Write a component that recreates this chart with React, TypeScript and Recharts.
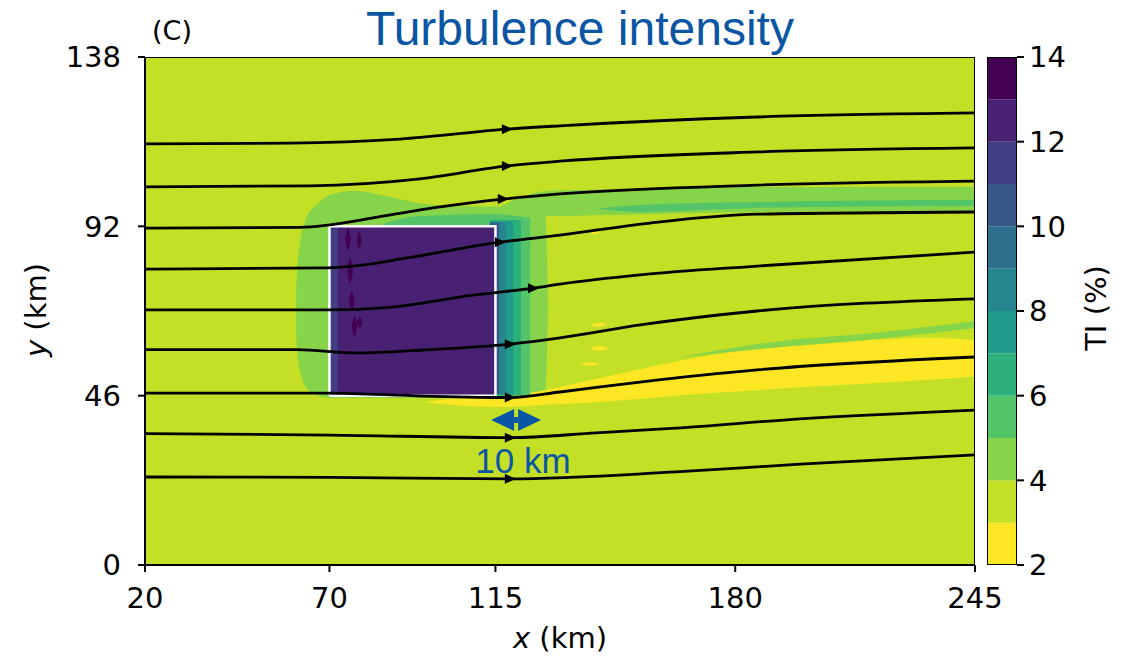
import React from 'react';
import { ComposedChart, Area, Line, Scatter, XAxis, YAxis } from 'recharts';

type Band = [number, number, number][]; // [x km, lower y km, upper y km]
type Pts = [number, number][];

const xTicks = [20, 70, 115, 180, 245];
const yTicks = [0, 46, 92, 138];
const tiTicks = [2, 4, 6, 8, 10, 12, 14];
const tiLevels = [2, 3, 4, 5, 6, 7, 8, 9, 10, 11, 12, 13, 14];
// viridis reversed, one colour per TI band
const tiColors = ['#fde725', '#c3e026', '#86d449', '#53c468', '#2eb07d', '#219b89',
    '#25868d', '#2e6f8e', '#38588c', '#423e84', '#482172', '#440154'];

// contour regions of TI
const background: Band = [[20, 0, 138], [245, 0, 138]];
const upstreamGreen: Band = [[61.0, 62.0, 76.0], [61.6, 55.0, 84.0], [62.2, 52.0, 89.0], [63.0, 49.5, 92.0],
    [63.8, 48.0, 94.5], [65.0, 47.0, 96.5], [66.5, 46.2, 97.8], [70.0, 45.4, 100.5], [77.0, 45.4, 101.7],
    [84.0, 45.4, 100.5], [94.5, 45.4, 98.3], [105.4, 45.4, 97.5], [116.2, 45.2, 97.3], [128.4, 45.6, 97.5],
    [129.3, 70, 70]];
const upperWake: Band = [[116.2, 94.8, 97.3], [128.4, 94.8, 101.5], [145.2, 95.1, 102.1], [185.9, 95.9, 102.7], [245, 96.2, 102.7]];
const upperStripe: Band = [[142.5, 96.8, 96.8], [154.2, 95.9, 97.8], [185.9, 97.0, 98.6], [245, 97.5, 99.2]];
const aboveBox: Band = [[83.7, 92.0, 92.3], [94.5, 92.0, 94.8], [114.3, 92.0, 95.3], [124.4, 93.0, 94.3]];
const lowWake: Band = [[95.9, 44.3, 44.3], [102.7, 43.5, 45.1], [116.2, 42.9, 45.6], [128.4, 43.5, 47.5],
    [143.3, 44.3, 50.8], [156.9, 45.4, 53.8], [170.5, 46.5, 56.5], [185.9, 47.5, 58.7], [203.0, 48.6, 60.0],
    [217.4, 49.4, 61.1], [232.8, 50.3, 61.7], [245, 51.3, 61.1]];
const lowWakeEdge: Band = [[163.1, 56.0, 56.0], [175.9, 57.6, 58.4], [190.2, 59.0, 60.6], [217.4, 61.3, 63.0], [245, 64.4, 66.3]];
const blob1: Band = [[140.6, 58.8, 58.8], [142.8, 58.2, 59.5], [146.1, 58.8, 58.8]];
const blob2: Band = [[137.9, 54.6, 54.6], [140.6, 54.1, 55.1], [143.3, 54.6, 54.6]];
const blob3: Band = [[140.6, 65.3, 65.3], [143.3, 64.7, 65.8], [145.2, 65.3, 65.3]];
const blob4: Band = [[140.6, 90.2, 90.2], [142.0, 89.9, 90.6], [143.3, 90.2, 90.2]];
const grad1: Band = [[113.5, 45.9, 94.3], [124.4, 45.9, 94.3]];
const grad2: Band = [[113.5, 46.2, 93.7], [121.9, 46.2, 93.7]];
const grad3: Band = [[113.5, 46.2, 93.4], [119.8, 46.2, 93.4]];
const grad4: Band = [[113.5, 46.5, 93.2], [117.9, 46.5, 93.2]];
const grad5: Band = [[113.5, 46.5, 92.9], [116.0, 46.5, 92.9]];
const farm: Band = [[70, 46, 92], [115, 46, 92]];
const farmEdge: Band = [[70, 46, 92], [72.3, 46, 92]];
const speck1: Band = [[74.3, 88.5, 88.5], [75.0, 85.5, 91.5], [75.8, 88.5, 88.5]];
const speck2: Band = [[77.4, 88.0, 88.0], [78.0, 86.0, 90.5], [78.8, 88.0, 88.0]];
const speck3: Band = [[74.8, 80.0, 80.0], [75.6, 76.5, 83.5], [76.4, 80.0, 80.0]];
const speck4: Band = [[75.3, 71.5, 71.5], [76.0, 69.0, 74.5], [76.8, 71.5, 71.5]];
const speck5: Band = [[76.0, 65.0, 65.0], [76.8, 62.0, 67.5], [77.6, 65.0, 65.0]];
const speck6: Band = [[77.4, 66.0, 66.0], [78.2, 64.5, 67.5], [79.0, 66.0, 66.0]];

const layers: [Band, string][] = [
    [background, tiColors[1]],
    [upstreamGreen, tiColors[2]],
    [upperWake, tiColors[2]],
    [upperStripe, tiColors[3]],
    [aboveBox, tiColors[3]],
    [lowWake, tiColors[0]],
    [lowWakeEdge, tiColors[2]],
    [blob1, tiColors[0]],
    [blob2, tiColors[0]],
    [blob3, tiColors[0]],
    [blob4, tiColors[0]],
    [grad1, tiColors[3]],
    [grad2, tiColors[4]],
    [grad3, tiColors[5]],
    [grad4, tiColors[6]],
    [grad5, tiColors[8]],
    [farm, tiColors[10]],
    [farmEdge, tiColors[9]],
    [speck1, tiColors[11]],
    [speck2, tiColors[11]],
    [speck3, tiColors[11]],
    [speck4, tiColors[11]],
    [speck5, tiColors[11]],
    [speck6, tiColors[11]],
];

// streamlines
const stream1: Pts = [[20, 114.4], [59.3, 114.6], [89.1, 115.7], [118.1, 118.4], [132.5, 119.3], [185.9, 121.7], [245, 122.8]];
const stream2: Pts = [[20, 102.7], [64.7, 103.0], [94.5, 104.9], [118.1, 108.4], [132.5, 109.7], [185.9, 112.2], [245, 113.3]];
const stream3: Pts = [[20, 91.5], [62, 91.7], [70.2, 92.4], [81.8, 94.3], [100, 97.3], [117, 99.4], [132.5, 100.8], [185.9, 103.2], [245, 104.3]];
const stream4: Pts = [[20, 80.4], [69.3, 80.7], [78.3, 81.4], [91, 83.4], [116.2, 87.7], [132.5, 89.6], [156.9, 92.9], [185.9, 95.3], [245, 95.9]];
const stream5: Pts = [[20, 69.3], [69.3, 69.3], [86.4, 70.0], [108.9, 73.3], [125.2, 75.2], [132.5, 76.3], [154.2, 78.8], [185.9, 81.2], [245, 85.0]];
const stream6: Pts = [[20, 58.5], [61.2, 58.5], [77.5, 57.6], [95.4, 58.4], [118.9, 60.0], [132.5, 61.7], [154.2, 65.2], [185.9, 69.0], [245, 72.3]];
const stream7: Pts = [[20, 46.7], [69.3, 46.7], [95.4, 45.9], [118.9, 45.5], [132.5, 47.0], [154.2, 49.7], [185.9, 53.0], [245, 56.5]];
const stream8: Pts = [[20, 35.7], [70.2, 35.3], [118.9, 34.6], [142.3, 35.9], [163.9, 37.2], [197.6, 39.7], [245, 42.1]];
const stream9: Pts = [[20, 23.9], [70.2, 23.8], [118.9, 23.4], [163.9, 25.3], [197.6, 27.4], [245, 29.9]];
const streams = [stream1, stream2, stream3, stream4, stream5, stream6, stream7, stream8, stream9];
const arrowHeads: Pts = [[118.1, 118.4], [118.1, 108.4], [117, 99.4], [116.2, 87.7], [125.2, 75.2],
    [118.9, 60.0], [118.9, 45.5], [118.9, 34.6], [118.9, 23.4]];

const farmOutline: Pts = [[70, 46], [70, 92], [115, 92], [115, 46], [70, 46]];
const frame: Pts = [[20, 0], [20, 138], [245, 138], [245, 0], [20, 0]];
const scaleBar: Pts = [[120.6, 39.4]];

const toArea = (b: Band) => b.map(([x, lo, hi]) => ({ x, r: [lo, hi] }));
const toPts = (p: Pts) => p.map(([x, y]) => ({ x, y }));

const blue = '#0b56a4';
const tickFont = { fill: '#000', fontSize: 29, fontFamily: 'DejaVu Sans' };

const ArrowHead = (props: any) => {
    const { cx, cy } = props;
    return <path d={`M${cx + 6},${cy} L${cx - 5},${cy - 5} L${cx - 5},${cy + 5} Z`} fill="#000" />;
};

const DoubleArrow = (props: any) => {
    const { cx, cy } = props;
    return (
        <g fill={blue}>
            <path d={`M${cx - 25},${cy} L${cx - 2},${cy - 11} L${cx - 2},${cy + 11} Z`} />
            <path d={`M${cx + 25},${cy} L${cx + 2},${cy - 11} L${cx + 2},${cy + 11} Z`} />
            <rect x={cx - 2} y={cy - 3} width={4} height={6} />
        </g>
    );
};

const colorbarBands = tiColors.map((c, i) => ({
    color: c,
    data: [{ x: 0, r: [tiLevels[i], tiLevels[i + 1]] }, { x: 1, r: [tiLevels[i], tiLevels[i + 1]] }],
}));
const colorbarFrame: Pts = [[0, 2], [0, 14], [1, 14], [1, 2], [0, 2]];

export default function App() {
    return (
        <div style={{ position: 'absolute', left: 0, top: 0, width: 1134, height: 659, background: '#fff' }}>
            <div style={{ position: 'absolute', left: 0, top: 0 }}>
                <ComposedChart width={1134} height={659} margin={{ top: 57, right: 159, bottom: 34, left: 85 }}>
                    <XAxis dataKey="x" type="number" domain={[20, 245]} ticks={xTicks} allowDataOverflow interval={0}
                        height={60} tickSize={7} tickMargin={15} stroke="#000" strokeWidth={2} tick={tickFont} />
                    <YAxis type="number" domain={[0, 138]} ticks={yTicks} allowDataOverflow interval={0}
                        width={60} tickSize={7} tickMargin={17} stroke="#000" strokeWidth={2} tick={tickFont} />
                    {layers.map(([band, color], i) => (
                        <Area key={'a' + i} data={toArea(band)} dataKey="r" type="monotone" fill={color}
                            fillOpacity={1} stroke="none" isAnimationActive={false} />
                    ))}
                    <Line data={toPts(farmOutline)} dataKey="y" type="linear" stroke="#fff" strokeWidth={2.5}
                        dot={false} isAnimationActive={false} />
                    {streams.map((s, i) => (
                        <Line key={'s' + i} data={toPts(s)} dataKey="y" type="monotone" stroke="#000"
                            strokeWidth={2.8} dot={false} isAnimationActive={false} />
                    ))}
                    <Line data={toPts(frame)} dataKey="y" type="linear" stroke="#000" strokeWidth={2}
                        dot={false} isAnimationActive={false} />
                    <Scatter data={toPts(arrowHeads)} dataKey="y" shape={ArrowHead} isAnimationActive={false} />
                    <Scatter data={toPts(scaleBar)} dataKey="y" shape={DoubleArrow} isAnimationActive={false} />
                </ComposedChart>
            </div>
            <div style={{ position: 'absolute', left: 960, top: 0 }}>
                <ComposedChart width={174} height={659} margin={{ top: 57, right: 57, bottom: 94, left: 27 }}>
                    <XAxis dataKey="x" type="number" domain={[0, 1]} hide allowDataOverflow />
                    <YAxis type="number" orientation="right" domain={[2, 14]} ticks={tiTicks} allowDataOverflow
                        interval={0} width={60} tickSize={7} tickMargin={5} axisLine={false}
                        tickLine={{ stroke: '#000', strokeWidth: 2 }} tick={tickFont} />
                    {colorbarBands.map((b, i) => (
                        <Area key={'c' + i} data={b.data} dataKey="r" type="linear" fill={b.color}
                            fillOpacity={1} stroke="none" isAnimationActive={false} />
                    ))}
                    <Line data={toPts(colorbarFrame)} dataKey="y" type="linear" stroke="#000" strokeWidth={2}
                        dot={false} isAnimationActive={false} />
                </ComposedChart>
            </div>
            <svg width={1134} height={659} style={{ position: 'absolute', left: 0, top: 0, pointerEvents: 'none' }}>
                <text x={580} y={45} textAnchor="middle" fontSize={48} fontFamily="Liberation Sans, Arial" fill={blue}>
                    Turbulence intensity
                </text>
                <text x={152} y={40} fontSize={27} fontFamily="DejaVu Sans" fill="#000">(C)</text>
                <text x={560} y={648} textAnchor="middle" fontSize={29} fontFamily="DejaVu Sans" fill="#000">
                    <tspan fontStyle="italic">x</tspan> (km)
                </text>
                <text x={46} y={310} textAnchor="middle" fontSize={29} fontFamily="DejaVu Sans" fill="#000"
                    transform="rotate(-90, 46, 310)">
                    <tspan fontStyle="italic">y</tspan> (km)
                </text>
                <text x={1106} y={308} textAnchor="middle" fontSize={29} fontFamily="DejaVu Sans" fill="#000"
                    transform="rotate(-90, 1106, 308)">
                    TI (%)
                </text>
                <text x={523} y={473} textAnchor="middle" fontSize={35} fontFamily="Liberation Sans, Arial" fill={blue}>
                    10 km
                </text>
            </svg>
        </div>
    );
}
